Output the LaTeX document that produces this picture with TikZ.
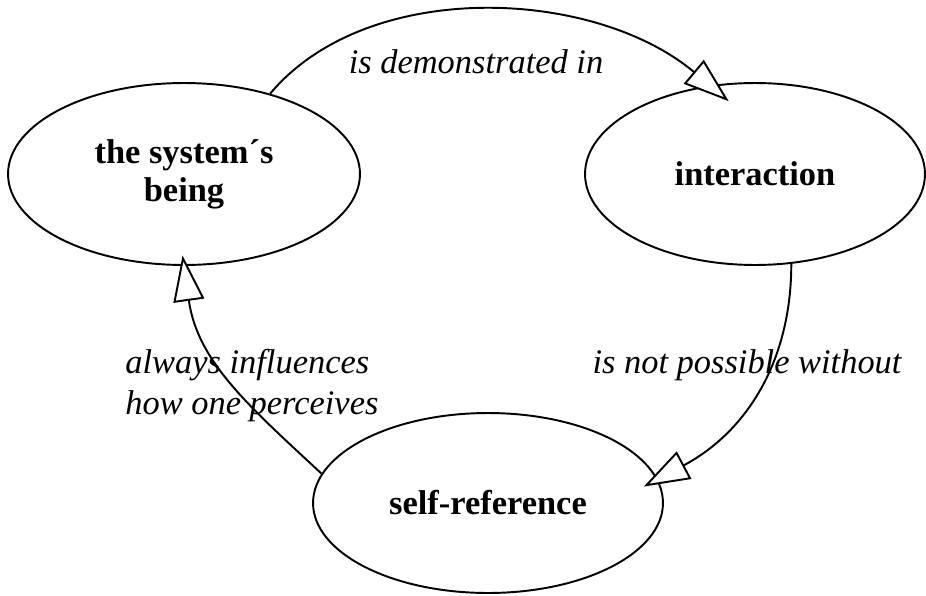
\documentclass[tikz,border=0pt]{standalone}
\usepackage{fontspec}
\setmainfont{Liberation Serif}
\usetikzlibrary{shapes.geometric,arrows.meta}

\begin{document}
\begin{tikzpicture}
    [
    x=0.02cm, y=-0.02cm
    , blob/.style = {draw, ellipse, line width=1.1pt, inner sep=0pt, font=\fontsize{19.6}{21.5}\selectfont\bfseries, align=center}
    , rel/.style = {font=\fontsize{19.6}{23.2}\selectfont\itshape, align=left, inner sep=0pt}
    , link/.style = {line width=1.1pt, -{Triangle[length=26pt,width=17.6pt,fill=white]}}
    ]
\useasboundingbox (0,0) rectangle (926,595);

\node[blob, minimum width=7.04cm, minimum height=3.64cm] (being) at (184,174) {the system´s\\being};
\node[blob, minimum width=6.8cm, minimum height=3.64cm] (inter) at (755,174) {interaction};
\node[blob, minimum width=7.0cm, minimum height=3.6cm] (selfref) at (488,503) {self-reference};

\draw[link, looseness=0.88, shorten >=-14pt] (being.43) to[out=50,in=140] (inter.117);
\draw[link, shorten >=-9pt] (inter.-68) to[out=-90,in=28] (selfref.8);
\draw[link, shorten >=-6pt] (selfref.170) to[out=137,in=-82] (being.-90);

\node[rel, anchor=base] (demo) at (476,73) {is demonstrated in};
\node[rel, anchor=base west] (infl) at (125,414) {always influences\\how one perceives};
\node[rel, anchor=base] (notp) at (747,373) {is not possible without};
\end{tikzpicture}
\end{document}
